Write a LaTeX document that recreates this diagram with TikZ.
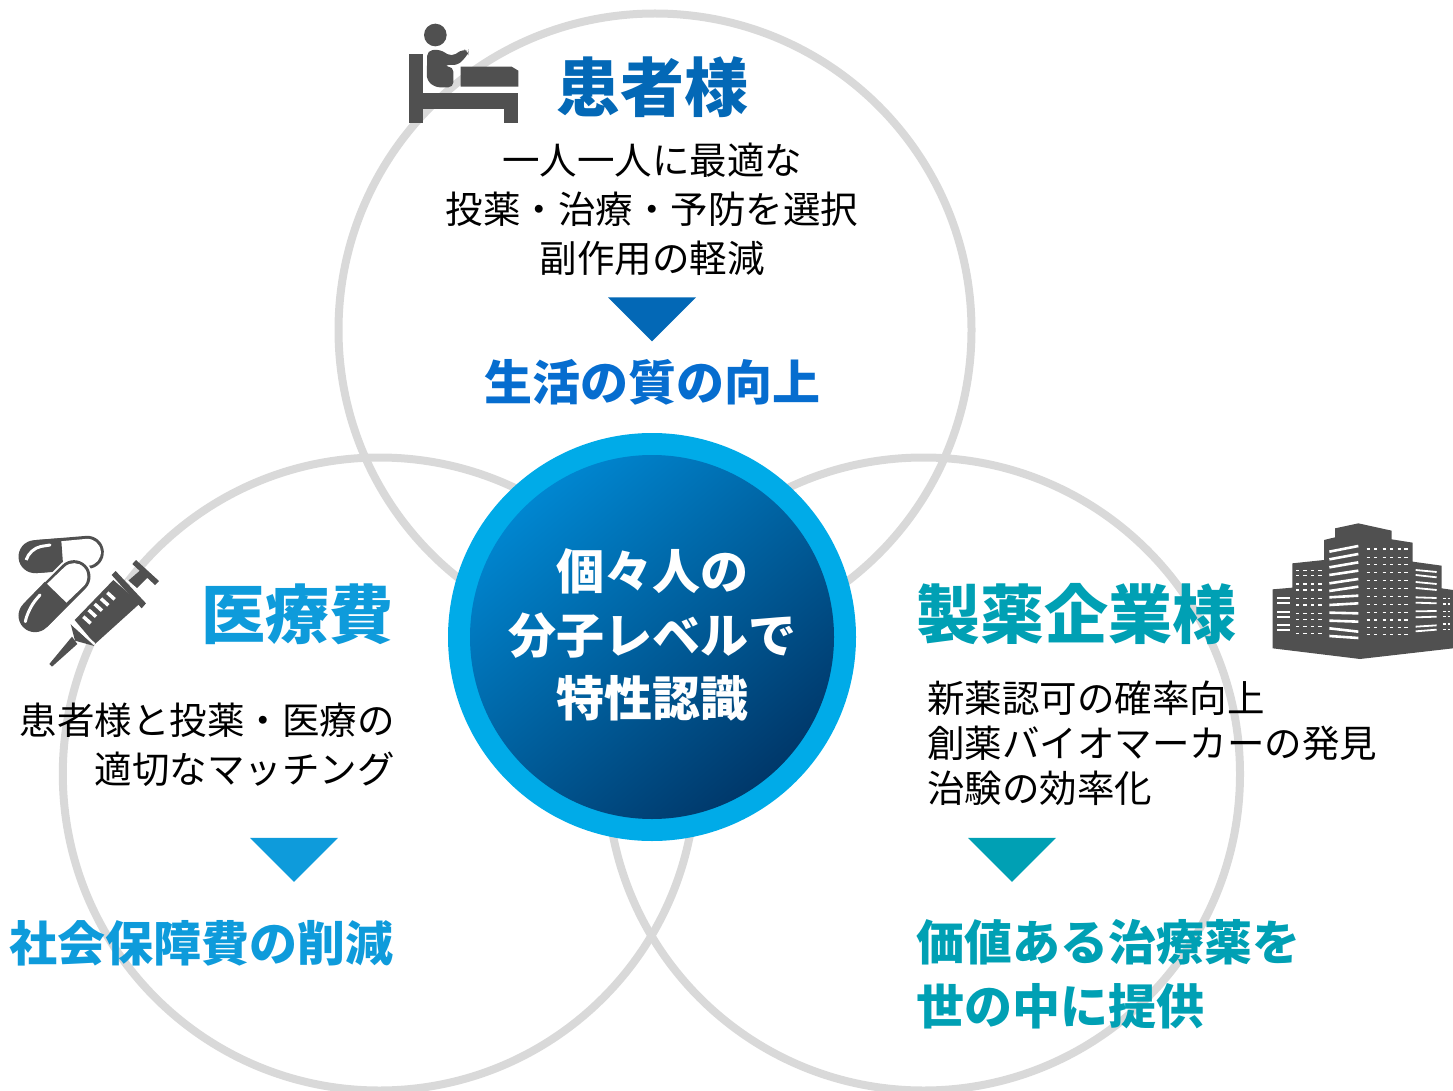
\documentclass[tikz,border=0pt]{standalone}
\usepackage{fontspec}
\setmainfont{Noto Sans CJK JP}
\usetikzlibrary{shapes,arrows,fit,positioning}
\definecolor{ringgray}{HTML}{D9D9D9}
\definecolor{icongray}{HTML}{505050}
\definecolor{patientblue}{HTML}{0368B6}
\definecolor{qolblue}{HTML}{066DCF}
\definecolor{costblue}{HTML}{0E9BDB}
\definecolor{pharmateal}{HTML}{00A0B4}
\definecolor{coreblue}{HTML}{00ABE8}
\definecolor{corelight}{HTML}{0086D0}
\definecolor{coredark}{HTML}{00386A}
\tikzset{
  ring/.style={circle,draw=ringgray,line width=8pt,minimum size=633pt,inner sep=0pt,outer sep=0pt},
  title/.style={font=\fontsize{64}{70}\selectfont\bfseries,inner sep=0pt},
  desc/.style={font=\fontsize{37.5}{49}\selectfont,inner sep=0pt},
  result/.style={font=\fontsize{48}{64}\selectfont\bfseries,inner sep=0pt},
  coretext/.style={font=\fontsize{48}{63.5}\selectfont\bfseries,text=white,inner sep=0pt,align=center},
  downtri/.style={isosceles triangle,isosceles triangle apex angle=89,shape border rotate=-90,minimum width=88pt,minimum height=44pt,inner sep=0pt,outer sep=0pt,isosceles triangle stretches},
  win/.style={white,line width=1.6pt},
  halo/.style={line width=37pt,line cap=round,white},
}
\begin{document}
\begin{tikzpicture}[x=1pt,y=-1pt]
\useasboundingbox (0,0) rectangle (1453,1091);
% rings
\node[ring] (ringtop) at (655,330) {};
\node[ring] (ringleft) at (379.3,774) {};
\node[ring] (ringright) at (923.5,774) {};
% core
\node[circle,fill=coreblue,minimum size=408pt,inner sep=0pt] (coreout) at (652,637) {};
\node[circle,minimum size=364pt,inner sep=0pt,top color=corelight,bottom color=coredark,shading angle=40] (corein) at (652,637) {};
\node[coretext] (coretxt) at (652,635) {個々人の\\分子レベルで\\特性認識};

% patient
\node[title,text=patientblue] (patient) at (652,87) {患者様};
\node[desc,align=center] (patientdesc) at (652,209) {一人一人に最適な\\投薬・治療・予防を選択\\副作用の軽減};
\node[downtri,fill=patientblue] (patienttri) at (652,315.5) {};
\node[result,text=qolblue] (patientres) at (652,382) {生活の質の向上};

% cost
\node[title,text=costblue,anchor=east] (cost) at (394,614) {医療費};
\node[desc,align=right,anchor=east] (costdesc) at (395,745) {患者様と投薬・医療の\\適切なマッチング};
\node[downtri,fill=costblue] (costtri) at (294,856) {};
\node[result,text=costblue,anchor=east] (costres) at (394,943) {社会保障費の削減};

% pharma
\node[title,text=pharmateal,anchor=west] (pharma) at (916,614) {製薬企業様};
\node[desc,align=left,anchor=west,font=\fontsize{37.5}{45}\selectfont] (pharmadesc) at (927,743) {新薬認可の確率向上\\創薬バイオマーカーの発見\\治験の効率化};
\node[downtri,fill=pharmateal] (pharmatri) at (1012,856) {};
\node[result,text=pharmateal,align=left,anchor=west] (pharmares) at (916,974) {価値ある治療薬を\\世の中に提供};

% bed icon
\begin{scope}[shift={(390,10)},scale=1/3,icongray]
\fill (136,75) circle (34);
\fill (57,132) rectangle (98,340);
\fill (98,248) rectangle (385,296);
\fill (342,296) rectangle (385,340);
\fill (212,170) -- (365,170) -- (385,182) -- (385,230) -- (212,230) -- cycle;
\fill[rounded corners=5pt] (112,122) -- (148,118) -- (185,140) -- (218,118) -- (236,122) -- (235,132) -- (205,165) -- (160,165) -- (160,170) -- (190,170) -- (190,232) -- (135,232) -- (110,210) -- cycle;
\end{scope}

% pills and syringe
\begin{scope}[shift={(0,520)},scale=1/3,icongray]
\draw[line width=33pt,line cap=round] (105,110) -- (262,97);
\draw[line width=27pt,line cap=round,white] (187,104) -- (262,97);
\draw[line width=33pt] (105,110) -- (187,104);
\draw[white,line width=3pt,line cap=round,rounded corners=12] (80,115) -- (88,85) -- (150,75);
\draw[halo] (105,287) -- (222,170);
\draw[line width=33pt,line cap=round] (105,287) -- (222,170);
\draw[line width=27pt,line cap=round,white] (170,220) -- (222,170);
\draw[line width=33pt] (105,287) -- (170,220);
\draw[white,line width=3pt,line cap=round,rounded corners=12] (76,305) -- (85,265) -- (120,225);
% syringe
\fill (148,432) -- (156,440) -- (232,372) -- (216,350) -- cycle;
\fill (212,312) -- (283,378) -- (225,362) -- cycle;
\fill (224,300) -- (340,180) -- (420,250) -- (285,372) -- cycle;
\draw[white,line width=2pt] (216,312) -- (284,372);
\fill (335,165) -- (347,153) -- (438,250) -- (425,265) -- cycle;
\fill (385,182) -- (430,143) -- (450,165) -- (408,207) -- cycle;
\fill (397,132) -- (408,120) -- (477,183) -- (465,195) -- cycle;
\draw[white,line width=2pt] (378,180) -- (415,212);
\foreach \tx/\ty in {250/290,266/270,284/252,303/236,322/218}
  \draw[white,line width=3.5pt] (\tx,\ty) -- ++(22,20);
\end{scope}

% building icon
\begin{scope}[shift={(1260,510)},scale=1/3]
\fill[icongray] (38,238) -- (97,233) -- (97,160) -- (192,150) -- (192,90) -- (225,82) -- (225,55) -- (295,40) -- (395,62) -- (395,88) -- (458,98) -- (458,155) -- (545,167) -- (545,235) -- (579,240) -- (579,415) -- (300,447) -- (38,415) -- cycle;
\foreach \ya/\yb in {125/108,148/132,172/157,195/182,220/207,243/230,262/257,285/280,308/310,332/335,355/365,378/384}
  \draw[white,line width=2.6pt] (208,\ya) -- (295,\yb);
\foreach \wy in {117,143,163,187,212,235,260,283,308,330,352,374}
  \foreach \wx in {325,347,373,395,418,438}
    \draw[win] (\wx-5,\wy) -- (\wx+5,\wy);
\foreach \wy in {182,197,222,240,265,285,310,328,350,370}
  \foreach \wx in {113,135,158,180}
    \draw[win] (\wx-5,\wy) -- (\wx+5,\wy);
\foreach \ya/\yb in {180/186,195/202,216/222,234/240,262/264,278/280,304/303,322/320,350/346,364/359}
  \draw[white,line width=1.8pt] (467,\ya) -- (530,\yb);
\foreach \wy in {265,280,305,322,345,360}
  \draw[white,line width=1.8pt] (52,\wy) -- (90,\wy);
\foreach \wy in {265,282,305,320,342,358}
  \foreach \wx in {553,567}
    \draw[win] (\wx-4,\wy) -- (\wx+4,\wy);
\end{scope}
\end{tikzpicture}
\end{document}
